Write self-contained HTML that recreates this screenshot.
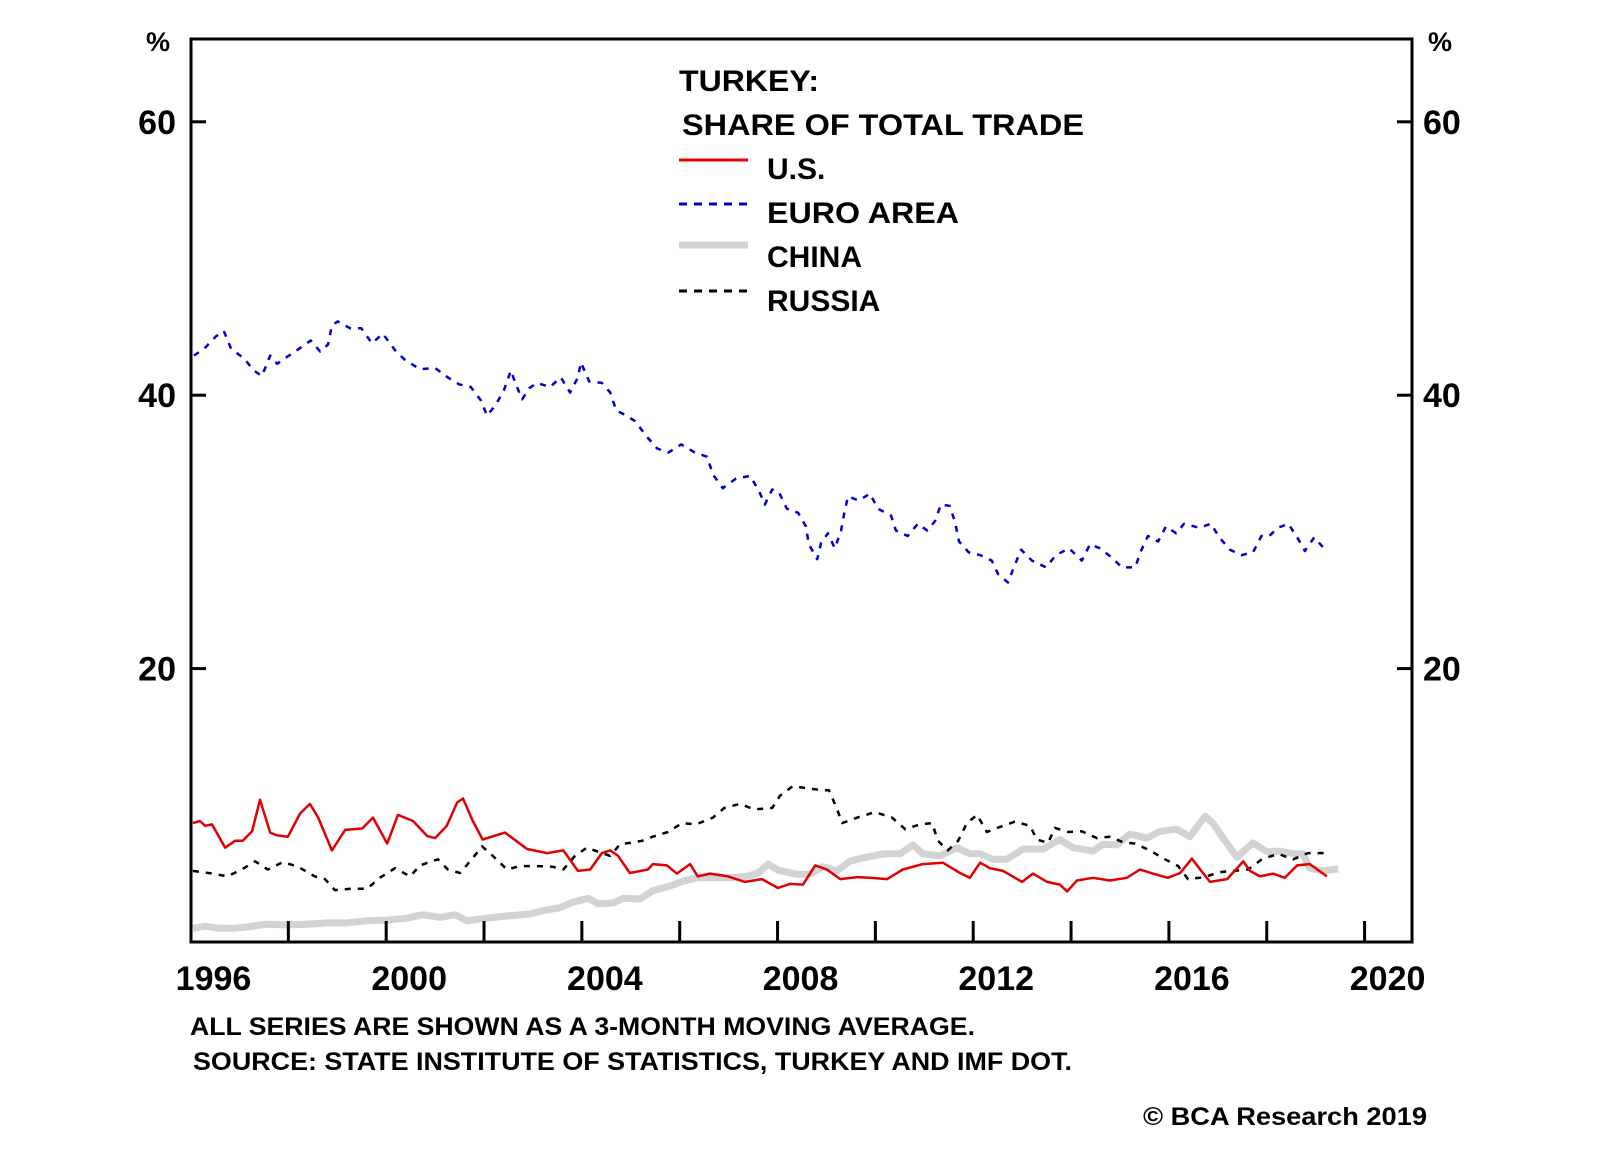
<!DOCTYPE html>
<html><head><meta charset="utf-8"><style>
html,body{margin:0;padding:0;background:#fff;}
svg{display:block;font-family:"Liberation Sans",Arial,sans-serif;font-weight:bold;}
</style></head><body>
<svg id="chart" width="1600" height="1152" viewBox="0 0 1600 1152" xmlns="http://www.w3.org/2000/svg">
<rect x="0" y="0" width="1600" height="1152" fill="#fff"/>
<g id="plot"></g>
<rect x="191" y="39" width="1221" height="903" fill="none" stroke="#000" stroke-width="3"/>
<g id="axes"></g>
<text x="158" y="51" font-size="27" text-anchor="middle">%</text>
<text x="1440" y="51" font-size="27" text-anchor="middle">%</text>
<g>
<text x="679" y="91" font-size="30" textLength="140" lengthAdjust="spacingAndGlyphs">TURKEY:</text>
<text x="682" y="135" font-size="30" textLength="402" lengthAdjust="spacingAndGlyphs">SHARE OF TOTAL TRADE</text>
<line x1="679" y1="160" x2="748" y2="160" stroke="#e00000" stroke-width="3"/>
<text x="767" y="179" font-size="30">U.S.</text>
<line x1="679" y1="204" x2="748" y2="204" stroke="#0000cc" stroke-width="3" stroke-dasharray="8 7"/>
<text x="767" y="223" font-size="30" textLength="192" lengthAdjust="spacingAndGlyphs">EURO AREA</text>
<line x1="679" y1="245" x2="748" y2="245" stroke="#d3d3d3" stroke-width="7"/>
<text x="767" y="267" font-size="30">CHINA</text>
<line x1="679" y1="291" x2="748" y2="291" stroke="#000" stroke-width="3" stroke-dasharray="8 7"/>
<text x="767" y="311" font-size="30">RUSSIA</text>
</g>
<text x="190" y="1035" font-size="25" textLength="785" lengthAdjust="spacingAndGlyphs">ALL SERIES ARE SHOWN AS A 3-MONTH MOVING AVERAGE.</text>
<text x="193" y="1070" font-size="25" textLength="879" lengthAdjust="spacingAndGlyphs">SOURCE: STATE INSTITUTE OF STATISTICS, TURKEY AND IMF DOT.</text>
<text x="1143" y="1125" font-size="25" textLength="284" lengthAdjust="spacingAndGlyphs">© BCA Research 2019</text>
</svg>
<script>
const yTicks = [20, 40, 60];
const xTickYears = [1998, 2000, 2002, 2004, 2006, 2008, 2010, 2012, 2014, 2016, 2018, 2020];
const xLabelYears = [1996, 2000, 2004, 2008, 2012, 2016, 2020];

const usSeries = [[1996.05,8.7],[1996.19,8.85],[1996.30,8.5],[1996.44,8.6],[1996.71,6.9],[1996.91,7.4],[1997.07,7.4],[1997.26,8.1],[1997.42,10.4],[1997.63,8.0],[1997.77,7.8],[1997.99,7.7],[1998.24,9.4],[1998.44,10.1],[1998.61,9.1],[1998.89,6.7],[1999.16,8.2],[1999.51,8.3],[1999.73,9.1],[2000.02,7.2],[2000.24,9.3],[2000.55,8.85],[2000.84,7.75],[2001.00,7.6],[2001.24,8.5],[2001.45,10.2],[2001.57,10.5],[2001.77,8.85],[2001.97,7.5],[2002.43,8.0],[2002.88,6.8],[2003.29,6.5],[2003.62,6.7],[2003.92,5.2],[2004.17,5.3],[2004.41,6.5],[2004.58,6.7],[2004.74,6.3],[2004.98,5.05],[2005.35,5.3],[2005.45,5.7],[2005.74,5.6],[2005.94,5.0],[2006.21,5.7],[2006.37,4.8],[2006.62,5.0],[2006.99,4.8],[2007.33,4.4],[2007.68,4.6],[2008.01,3.95],[2008.25,4.25],[2008.52,4.2],[2008.77,5.6],[2009.01,5.3],[2009.28,4.6],[2009.63,4.75],[2009.89,4.7],[2010.24,4.6],[2010.56,5.3],[2010.97,5.7],[2011.38,5.8],[2011.73,5.05],[2011.93,4.7],[2012.14,5.8],[2012.34,5.4],[2012.61,5.2],[2013.00,4.4],[2013.22,5.0],[2013.51,4.4],[2013.77,4.2],[2013.92,3.7],[2014.12,4.5],[2014.45,4.7],[2014.79,4.5],[2015.14,4.7],[2015.41,5.3],[2015.67,5.0],[2015.98,4.7],[2016.23,5.05],[2016.47,6.1],[2016.64,5.3],[2016.84,4.4],[2017.19,4.6],[2017.52,5.9],[2017.66,5.2],[2017.86,4.8],[2018.13,5.0],[2018.37,4.7],[2018.62,5.6],[2018.88,5.7],[2019.23,4.8]];

const euroSeries = [[1996.07,42.9],[1996.28,43.4],[1996.52,44.3],[1996.68,44.7],[1996.83,43.4],[1997.09,42.7],[1997.30,41.8],[1997.46,41.4],[1997.63,42.9],[1997.77,42.3],[1997.93,42.7],[1998.14,43.2],[1998.46,44.0],[1998.65,43.2],[1998.81,43.7],[1998.89,45.1],[1999.01,45.4],[1999.26,44.9],[1999.49,44.9],[1999.71,43.8],[1999.93,44.5],[2000.20,43.2],[2000.38,42.6],[2000.69,41.9],[2001.00,42.0],[2001.26,41.3],[2001.49,40.8],[2001.73,40.6],[2001.94,39.6],[2002.06,38.5],[2002.24,39.3],[2002.41,40.4],[2002.55,41.8],[2002.65,40.8],[2002.78,39.7],[2002.92,40.5],[2003.08,40.9],[2003.35,40.6],[2003.57,41.3],[2003.76,40.2],[2003.92,41.3],[2003.98,42.4],[2004.15,41.0],[2004.41,40.9],[2004.58,40.2],[2004.70,38.9],[2004.91,38.5],[2005.09,38.1],[2005.32,37.0],[2005.54,36.1],[2005.77,35.8],[2006.03,36.4],[2006.31,35.8],[2006.56,35.5],[2006.68,34.2],[2006.88,33.2],[2007.15,33.9],[2007.44,34.1],[2007.62,33.0],[2007.74,32.0],[2007.89,33.1],[2008.03,32.9],[2008.19,31.7],[2008.42,31.4],[2008.58,30.4],[2008.64,29.1],[2008.81,28.0],[2008.89,29.2],[2009.03,29.9],[2009.17,28.8],[2009.30,30.1],[2009.36,31.3],[2009.44,32.6],[2009.66,32.3],[2009.89,32.8],[2010.05,31.7],[2010.32,31.2],[2010.42,30.1],[2010.66,29.7],[2010.87,30.6],[2011.06,30.1],[2011.22,30.8],[2011.34,32.0],[2011.52,31.9],[2011.63,30.7],[2011.71,29.3],[2011.91,28.5],[2012.14,28.3],[2012.38,27.9],[2012.51,26.9],[2012.71,26.3],[2012.83,27.4],[2012.98,28.7],[2013.20,27.9],[2013.49,27.4],[2013.69,28.3],[2013.96,28.8],[2014.22,27.9],[2014.39,29.1],[2014.59,28.8],[2014.84,28.1],[2015.04,27.4],[2015.31,27.4],[2015.43,28.6],[2015.57,29.7],[2015.78,29.3],[2015.94,30.4],[2016.15,29.9],[2016.31,30.6],[2016.62,30.3],[2016.86,30.6],[2017.03,29.6],[2017.25,28.7],[2017.48,28.3],[2017.72,28.5],[2017.89,29.7],[2018.05,29.7],[2018.23,30.3],[2018.44,30.6],[2018.64,29.5],[2018.78,28.6],[2018.97,29.6],[2019.17,28.8]];

const chinaSeries = [[1996.05,1.0],[1996.30,1.15],[1996.60,1.0],[1996.87,1.0],[1997.15,1.1],[1997.56,1.3],[1997.97,1.25],[1998.38,1.3],[1998.79,1.4],[1999.20,1.4],[1999.61,1.55],[2000.02,1.6],[2000.43,1.75],[2000.75,2.0],[2001.10,1.8],[2001.41,2.0],[2001.65,1.55],[2002.06,1.75],[2002.47,1.9],[2002.94,2.05],[2003.21,2.3],[2003.55,2.5],[2003.80,2.9],[2004.13,3.2],[2004.33,2.8],[2004.64,2.85],[2004.84,3.2],[2005.19,3.15],[2005.45,3.75],[2005.80,4.1],[2006.07,4.45],[2006.35,4.7],[2006.68,4.7],[2007.03,4.7],[2007.38,4.8],[2007.60,5.05],[2007.81,5.7],[2008.01,5.25],[2008.40,4.95],[2008.66,4.95],[2008.93,5.5],[2009.21,5.2],[2009.48,5.9],[2009.75,6.15],[2010.16,6.45],[2010.51,6.45],[2010.77,7.1],[2010.97,6.45],[2011.32,6.3],[2011.67,6.9],[2011.93,6.45],[2012.14,6.45],[2012.40,6.05],[2012.69,6.05],[2013.02,6.8],[2013.43,6.8],[2013.77,7.5],[2014.04,6.9],[2014.45,6.65],[2014.65,7.15],[2014.94,7.1],[2015.20,7.9],[2015.55,7.6],[2015.82,8.1],[2016.16,8.25],[2016.43,7.7],[2016.74,9.2],[2016.90,8.7],[2017.11,7.6],[2017.39,6.2],[2017.72,7.25],[2018.01,6.6],[2018.27,6.65],[2018.54,6.45],[2018.74,6.45],[2018.88,5.4],[2019.15,5.2],[2019.46,5.35]];

const russiaSeries = [[1996.05,5.2],[1996.46,5.0],[1996.75,4.8],[1997.05,5.3],[1997.32,5.9],[1997.58,5.3],[1997.89,5.85],[1998.20,5.5],[1998.54,4.8],[1998.75,4.6],[1998.95,3.8],[1999.30,3.9],[1999.61,3.9],[1999.87,4.7],[2000.18,5.4],[2000.49,4.8],[2000.69,5.6],[2001.06,6.05],[2001.26,5.3],[2001.51,5.05],[2001.75,6.05],[2001.96,7.0],[2002.18,6.3],[2002.47,5.3],[2002.73,5.55],[2003.10,5.55],[2003.41,5.5],[2003.62,5.3],[2003.86,6.3],[2004.10,6.9],[2004.58,6.3],[2004.78,7.15],[2004.98,7.25],[2005.23,7.4],[2005.45,7.7],[2005.76,8.05],[2006.05,8.7],[2006.33,8.6],[2006.68,9.1],[2006.91,9.8],[2007.23,10.1],[2007.52,9.7],[2007.89,9.8],[2008.05,10.7],[2008.31,11.4],[2008.60,11.25],[2008.93,11.1],[2009.05,11.1],[2009.21,9.8],[2009.32,8.7],[2009.63,9.1],[2009.99,9.5],[2010.34,9.1],[2010.61,8.25],[2010.91,8.6],[2011.16,8.7],[2011.28,7.4],[2011.48,6.7],[2011.69,7.4],[2011.87,8.7],[2012.08,9.3],[2012.28,8.05],[2012.49,8.35],[2012.85,8.8],[2013.16,8.5],[2013.30,7.5],[2013.53,7.25],[2013.67,8.35],[2013.94,8.05],[2014.22,8.1],[2014.53,7.6],[2014.79,7.7],[2015.06,7.3],[2015.31,7.2],[2015.61,6.7],[2015.92,6.05],[2016.19,5.55],[2016.39,4.6],[2016.74,4.75],[2017.01,5.1],[2017.31,5.2],[2017.62,5.3],[2017.90,6.05],[2018.23,6.45],[2018.54,6.05],[2018.84,6.5],[2019.19,6.5]];

const NS = 'http://www.w3.org/2000/svg';
const X0 = 190.5, PXY = 48.92, Y0 = 942, PXV = 13.67;
function xScale(t){ return X0 + (t - 1996) * PXY; }
function yScale(v){ return Y0 - v * PXV; }
function mk(tag, attrs, parent){
  const el = document.createElementNS(NS, tag);
  for (const k in attrs) el.setAttribute(k, attrs[k]);
  parent.appendChild(el);
  return el;
}
const plot = document.getElementById('plot');
const axes = document.getElementById('axes');

function drawSeries(series, name, stroke, width, dash){
  const d = series.map((p, i) => (i ? 'L' : 'M') + xScale(p[0]).toFixed(1) + ' ' + yScale(p[1]).toFixed(1)).join(' ');
  const attrs = {d: d, fill: 'none', stroke: stroke, 'stroke-width': width, 'stroke-linejoin': 'round'};
  if (dash) attrs['stroke-dasharray'] = dash;
  const el = mk('path', attrs, plot);
  
  
}
drawSeries(chinaSeries, 'china-line', '#d3d3d3', 7, null);
drawSeries(russiaSeries, 'russia-line', '#000', 2.5, '6 7');
drawSeries(usSeries, 'us-line', '#e00000', 2.5, null);
drawSeries(euroSeries, 'euro-area-line', '#0000cc', 2.5, '6 7');

yTicks.forEach(v => {
  const y = yScale(v);
  const t1 = mk('line', {x1: 191, y1: y, x2: 206, y2: y, stroke: '#000', 'stroke-width': 3}, axes);
  
  
  const t2 = mk('line', {x1: 1397, y1: y, x2: 1412, y2: y, stroke: '#000', 'stroke-width': 3}, axes);
  
  
  const l1 = mk('text', {x: 176, y: y + 12, 'font-size': 34, 'text-anchor': 'end'}, axes);
  l1.textContent = v;
  
  
  const l2 = mk('text', {x: 1423, y: y + 12, 'font-size': 34}, axes);
  l2.textContent = v;
  
  
});
xTickYears.forEach(t => {
  const x = xScale(t);
  const tk = mk('line', {x1: x, y1: 921, x2: x, y2: 942, stroke: '#000', 'stroke-width': 3}, axes);
  
  
});
xLabelYears.forEach(t => {
  const lb = mk('text', {x: xScale(t) + 23, y: 990, 'font-size': 34, 'text-anchor': 'middle'}, axes);
  lb.textContent = t;
  
  
});
</script>
</body></html>
